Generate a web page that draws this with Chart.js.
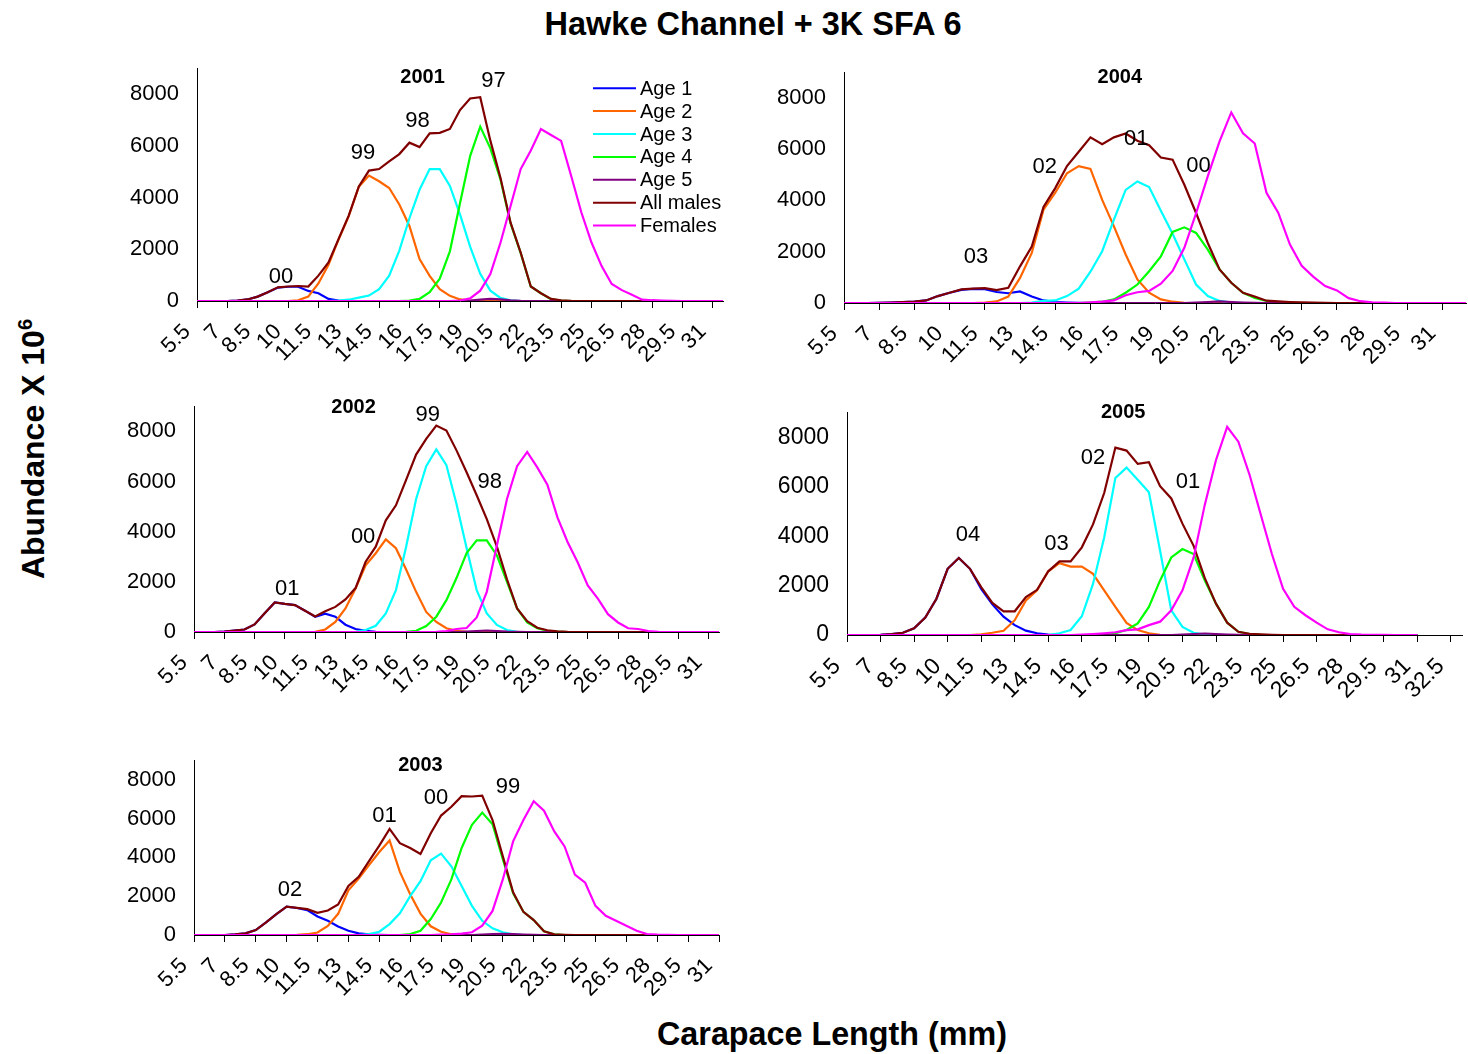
<!DOCTYPE html>
<html>
<head>
<meta charset="utf-8">
<script src="https://cdn.jsdelivr.net/npm/chart.js@4.4.1/dist/chart.umd.min.js"></script>
<style>
  html, body { margin: 0; padding: 0; overflow: hidden; }
  body { width: 1468px; height: 1054px; position: relative; background: #fff; font-family: "Liberation Sans", Arial, sans-serif; color: #000; }
  canvas { position: absolute; }
  .txt { position: absolute; font-weight: bold; white-space: nowrap; line-height: 1; }
  #mainTitle { left: 753px; top: 8px; font-size: 32.5px; transform: translateX(-50%); }
  #xTitle { left: 832px; top: 1018px; font-size: 32.3px; transform: translateX(-50%); }
  #yTitle { left: 33px; top: 449px; font-size: 32px; transform: translate(-50%, -50%) rotate(-90deg); }
  #yTitle sup { font-size: 20px; vertical-align: 12px; line-height: 0; }
</style>
</head>
<body>
<div id="mainTitle" class="txt">Hawke Channel + 3K SFA 6</div>
<div id="yTitle" class="txt">Abundance X 10<sup>6</sup></div>
<div id="xTitle" class="txt">Carapace Length (mm)</div>

<script>
// carapace length classes (mm)
const sizeLabels = ['5.5','6','6.5','7','7.5','8','8.5','9','9.5','10','10.5','11','11.5','12','12.5','13','13.5','14',
  '14.5','15','15.5','16','16.5','17','17.5','18','18.5','19','19.5','20','20.5','21','21.5','22','22.5','23','23.5',
  '24','24.5','25','25.5','26','26.5','27','27.5','28','28.5','29','29.5','30','30.5','31','31.5','32','32.5','33'];
const abundanceTicks = [0, 2000, 4000, 6000, 8000];

const seriesNames = ['Age 1', 'Age 2', 'Age 3', 'Age 4', 'Age 5', 'All males', 'Females'];
const seriesColors = ['#0000ff', '#ff6600', '#00ffff', '#00ff00', '#800080', '#800000', '#ff00ff'];

// ---- 2001 ----
const age1_2001 = [0,0,0,0,20,60,170,340,520,550, 550,390,300,80,20,0,0,0,0,0, 0,0,0,0,0,0,0,0,0,0,
  0,0,0,0,0,0,0,0,0,0, 0,0,0,0,0,0,0,0,0,0, 0,0,0];
const age2_2001 = [0,0,0,0,0,0,0,0,0,0, 30,170,680,1400,2380,3280,4420,4850,4630,4370, 3730,2900,1620,970,460,200,60,20,0,0,
  0,0,0,0,0,0,0,0,0,0, 0,0,0,0,0,0,0,0,0,0, 0,0,0];
const age3_2001 = [0,0,0,0,0,0,0,0,0,0, 0,0,0,0,20,50,130,210,460,975, 1950,3200,4300,5100,5100,4450,3350,2100,1050,400,
  120,30,0,0,0,0,0,0,0,0, 0,0,0,0,0,0,0,0,0,0, 0,0,0];
const age4_2001 = [0,0,0,0,0,0,0,0,0,0, 0,0,0,0,0,0,0,0,0,0, 0,20,80,340,860,1920,3780,5600,6740,5900,
  4700,3000,1850,560,300,70,20,0,0,0, 0,0,0,0,0,0,0,0,0,0, 0,0,0];
const age5_2001 = [0,0,0,0,0,0,0,0,0,0, 0,0,0,0,0,0,0,0,0,0, 0,0,0,0,0,0,0,20,50,80,
  60,30,10,0,0,0,0,0,0,0, 0,0,0,0,0,0,0,0,0,0, 0,0,0];
const males_2001 = [0,0,0,0,20,60,170,340,530,560, 580,560,980,1490,2400,3300,4430,5040,5100,5400, 5680,6120,5950,6480,6500,6650,7380,7830,7880,6200,
  4760,3030,1870,560,300,80,30,10,0,0, 0,0,0,0,0,0,0,0,0,0, 0,0,0];
const females_2001 = [0,0,0,0,0,0,0,0,0,0, 0,0,0,0,0,0,0,0,0,0, 0,0,0,0,0,0,20,100,400,1040,
  2250,3670,5100,5820,6650,6420,6190,4820,3420,2260, 1350,660,420,240,50,30,20,10,0,0, 0,0,0];
const cohorts2001 = [['00', 8.3, 920], ['99', 16.4, 5730], ['98', 21.8, 6960], ['97', 29.3, 8500]];

// ---- 2004 ----
const age1_2004 = [0,0,0,10,20,40,50,100,270,400, 510,550,540,430,380,450,250,100,40,20, 10,0,0,0,0,0,0,0,0,0,
  0,0,0,0,0,0,0,0,0,0, 0,0,0,0,0,0,0,0,0,0, 0,0,0,0];
const age2_2004 = [0,0,0,0,0,0,0,0,0,0, 0,0,20,60,250,980,1950,3640,4300,5060, 5340,5230,4020,2990,1890,920,400,140,50,10,
  0,0,0,0,0,0,0,0,0,0, 0,0,0,0,0,0,0,0,0,0, 0,0,0,0];
const age3_2004 = [0,0,0,0,0,0,0,0,0,0, 0,0,0,0,0,0,20,80,100,270, 560,1220,2020,3250,4410,4740,4520,3600,2700,1700,
  720,270,80,20,0,0,0,0,0,0, 0,0,0,0,0,0,0,0,0,0, 0,0,0,0];
const age4_2004 = [0,0,0,0,0,0,0,0,0,0, 0,0,0,0,0,0,0,0,0,0, 0,20,50,140,400,720,1240,1820,2770,2950,
  2730,2080,1310,790,400,200,80,30,10,0, 0,0,0,0,0,0,0,0,0,0, 0,0,0,0];
const age5_2004 = [0,0,0,0,0,0,0,0,0,0, 0,0,0,0,0,0,0,0,0,0, 0,0,0,0,0,0,0,0,0,0,
  20,40,60,40,20,10,0,0,0,0, 0,0,0,0,0,0,0,0,0,0, 0,0,0,0];
const males_2004 = [0,0,0,10,20,40,50,100,270,400, 530,560,580,500,590,1430,2200,3750,4480,5340, 5900,6460,6190,6460,6610,6330,6150,5670,5590,4610,
  3510,2340,1310,790,400,250,90,60,40,30, 20,10,0,0,0,0,0,0,0,0, 0,0,0,0];
const females_2004 = [0,0,0,0,0,0,0,0,0,0, 0,0,0,0,0,0,0,0,0,0, 0,30,50,100,300,420,470,750,1250,2150,
  3500,4950,6300,7430,6620,6220,4300,3520,2280,1450, 1020,660,490,190,70,30,20,0,0,0, 0,0,0,0];
const cohorts2004 = [['03', 11.25, 1800], ['02', 17.1, 5320], ['01', 24.9, 6400], ['00', 30.2, 5360]];

// ---- 2002 ----
const age1_2002 = [0,0,0,20,60,100,300,750,1180,1120, 1070,850,610,730,610,290,120,50,10,0, 0,0,0,0,0,0,0,0,0,0,
  0,0,0,0,0,0,0,0,0,0, 0,0,0,0,0,0,0,0,0,0, 0,0,0];
const age2_2002 = [0,0,0,0,0,0,0,0,0,0, 0,0,10,100,400,940,1730,2660,3140,3690, 3340,2500,1600,800,400,150,50,10,0,0,
  0,0,0,0,0,0,0,0,0,0, 0,0,0,0,0,0,0,0,0,0, 0,0,0];
const age3_2002 = [0,0,0,0,0,0,0,0,0,0, 0,0,0,0,0,0,10,80,250,740, 1670,3380,5300,6610,7280,6650,5100,3350,1670,740,
  280,80,10,0,0,0,0,0,0,0, 0,0,0,0,0,0,0,0,0,0, 0,0,0];
const age4_2002 = [0,0,0,0,0,0,0,0,0,0, 0,0,0,0,0,0,0,0,0,0, 0,10,50,240,610,1270,2150,3150,3650,3650,
  3050,2000,940,380,150,50,20,0,0,0, 0,0,0,0,0,0,0,0,0,0, 0,0,0];
const age5_2002 = [0,0,0,0,0,0,0,0,0,0, 0,0,0,0,0,0,0,0,0,0, 0,0,0,0,0,0,0,20,40,60,
  40,20,10,0,0,0,0,0,0,0, 0,0,0,0,0,0,0,0,0,0, 0,0,0];
const males_2002 = [0,0,0,20,60,100,300,750,1180,1120, 1070,850,620,830,1000,1300,1750,2800,3400,4450, 5050,6050,7070,7700,8230,8030,7240,6370,5450,4500,
  3400,2100,940,430,170,70,30,10,0,0, 0,0,0,0,0,0,0,0,0,0, 0,0,0];
const females_2002 = [0,0,0,0,0,0,0,0,0,0, 0,0,0,0,0,0,0,0,0,0, 0,0,0,0,10,40,120,160,580,1600,
  3450,5300,6610,7180,6560,5870,4570,3590,2780,1860, 1330,710,380,150,120,40,10,0,0,0, 0,0,0];
const cohorts2002 = [['01', 9.23, 1700], ['00', 16.75, 3790], ['99', 23.15, 8670], ['98', 29.3, 5990]];

// ---- 2005 (no catch recorded above 31 mm) ----
const age1_2005 = [0,0,0,10,40,90,270,710,1470,2680, 3120,2680,1870,1240,740,400,175,70,15,0, 0,0,0,0,0,0,0,0,0,0,
  0,0,0,0,0,0,0,0,0,0, 0,0,0,0,0,0,0,0,0,0, 0,0,null,null,null,null];
const age2_2005 = [0,0,0,0,0,0,0,0,0,0, 0,0,30,90,170,600,1400,1810,2580,2910, 2770,2770,2480,1810,1140,490,200,70,10,0,
  0,0,0,0,0,0,0,0,0,0, 0,0,0,0,0,0,0,0,0,0, 0,0,null,null,null,null];
const age3_2005 = [0,0,0,0,0,0,0,0,0,0, 0,0,0,0,0,0,0,0,0,70, 200,760,2070,3950,6360,6780,6290,5780,3410,1000,
  330,90,20,0,0,0,0,0,0,0, 0,0,0,0,0,0,0,0,0,0, 0,0,null,null,null,null];
const age4_2005 = [0,0,0,0,0,0,0,0,0,0, 0,0,0,0,0,0,0,0,0,0, 0,0,0,0,70,200,470,1140,2210,3140,
  3480,3280,2210,1270,500,130,40,10,0,0, 0,0,0,0,0,0,0,0,0,0, 0,0,null,null,null,null];
const age5_2005 = [0,0,0,0,0,0,0,0,0,0, 0,0,0,0,0,0,0,0,0,0, 0,0,0,0,0,0,0,0,0,0,
  20,40,60,40,20,10,0,0,0,0, 0,0,0,0,0,0,0,0,0,0, 0,0,null,null,null,null];
const males_2005 = [0,0,0,10,40,90,270,710,1470,2680, 3120,2680,1940,1300,960,960,1540,1830,2580,2980, 2980,3550,4480,5750,7590,7470,6930,7000,6030,5530,
  4510,3610,2300,1270,500,130,50,30,10,0, 0,0,0,0,0,0,0,0,0,0, 0,0,null,null,null,null];
const females_2005 = [0,0,0,0,0,0,0,0,0,0, 0,0,0,0,0,0,0,0,0,0, 0,20,40,70,110,200,230,400,540,1000,
  1810,3140,5280,7090,8430,7830,6490,4880,3280,1870, 1140,800,500,230,110,40,15,10,5,0, 0,0,null,null,null,null];
const cohorts2005 = [['04', 10.83, 4040], ['03', 18.74, 3705], ['02', 22.0, 7160], ['01', 30.5, 6180]];

// ---- 2003 ----
const age1_2003 = [0,0,0,0,30,85,255,650,1070,1460, 1390,1280,950,730,440,220,85,30,10,0, 0,0,0,0,0,0,0,0,0,0,
  0,0,0,0,0,0,0,0,0,0, 0,0,0,0,0,0,0,0,0,0, 0,0];
const age2_2003 = [0,0,0,0,0,0,0,0,0,0, 10,40,130,470,1090,2300,2900,3600,4270,4870, 3250,2100,1100,450,170,40,10,0,0,0,
  0,0,0,0,0,0,0,0,0,0, 0,0,0,0,0,0,0,0,0,0, 0,0];
const age3_2003 = [0,0,0,0,0,0,0,0,0,0, 0,0,0,0,0,0,0,50,170,560, 1120,2000,2770,3850,4190,3540,2520,1500,730,340,
  140,30,0,0,0,0,0,0,0,0, 0,0,0,0,0,0,0,0,0,0, 0,0];
const age4_2003 = [0,0,0,0,0,0,0,0,0,0, 0,0,0,0,0,0,0,0,0,0, 0,50,220,820,1670,2860,4480,5670,6300,5700,
  3900,2150,1190,770,190,40,0,0,0,0, 0,0,0,0,0,0,0,0,0,0, 0,0];
const age5_2003 = [0,0,0,0,0,0,0,0,0,0, 0,0,0,0,0,0,0,0,0,0, 0,0,0,0,0,0,0,0,20,50,
  60,40,20,10,0,0,0,0,0,0, 0,0,0,0,0,0,0,0,0,0, 0,0];
const males_2003 = [0,0,0,0,30,85,255,650,1070,1460, 1400,1330,1140,1260,1570,2520,3000,3800,4600,5460, 4730,4480,4170,5240,6150,6600,7150,7130,7180,5920,
  4050,2200,1190,770,190,30,10,0,0,0, 0,0,0,0,0,0,0,0,0,0, 0,0];
const females_2003 = [0,0,0,0,0,0,0,0,0,0, 0,0,0,0,0,0,0,0,0,0, 0,0,0,0,15,30,70,140,480,1240,
  2860,4820,5920,6890,6400,5330,4560,3110,2690,1500, 990,730,480,220,50,20,10,0,0,0, 0,0];
const cohorts2003 = [['02', 9.33, 2310], ['01', 18.5, 6140], ['00', 23.5, 7040], ['99', 30.5, 7640]];

const FONT = '"Liberation Sans", Arial, sans-serif';

// plot-area boxes on the page, one per year
const panes = [
  { year: '2001', nCats: 53, left: 197, top: 67, width: 526, height: 234, tick: 22, label: 22, titleAt: [22.3, 8650], legend: true,
    series: [age1_2001, age2_2001, age3_2001, age4_2001, age5_2001, males_2001, females_2001], cohorts: cohorts2001 },
  { year: '2004', nCats: 54, left: 844, top: 71, width: 622, height: 232, tick: 22, label: 22, titleAt: [23.5, 8780],
    series: [age1_2004, age2_2004, age3_2004, age4_2004, age5_2004, males_2004, females_2004], cohorts: cohorts2004 },
  { year: '2002', nCats: 53, left: 194, top: 405, width: 525, height: 227, tick: 22, label: 22, titleAt: [15.8, 8940],
    series: [age1_2002, age2_2002, age3_2002, age4_2002, age5_2002, males_2002, females_2002], cohorts: cohorts2002 },
  { year: '2005', nCats: 56, left: 847, top: 411, width: 615, height: 224, tick: 23, label: 22, titleAt: [24.7, 9000],
    series: [age1_2005, age2_2005, age3_2005, age4_2005, age5_2005, males_2005, females_2005], cohorts: cohorts2005 },
  { year: '2003', nCats: 52, left: 194, top: 759, width: 525, height: 176, tick: 22, label: 22, titleAt: [22.0, 8710],
    series: [age1_2003, age2_2003, age3_2003, age4_2003, age5_2003, males_2003, females_2003], cohorts: cohorts2003 }
];

const AXIS_W = 100, AXIS_H = 110, PAD_T = 30, PAD_R = 40;

// year title, cohort tags and (first panel only) the legend
function panelText(pane) {
  return {
    id: 'panelText',
    afterDraw(chart) {
      const { ctx, chartArea, scales: { x, y } } = chart;
      ctx.save();
      ctx.fillStyle = '#000';
      ctx.textAlign = 'center';
      ctx.textBaseline = 'middle';
      ctx.font = `bold 20px ${FONT}`;
      ctx.fillText(pane.year, x.getPixelForValue(pane.titleAt[0]), y.getPixelForValue(pane.titleAt[1]));
      ctx.font = `${pane.label}px ${FONT}`;
      pane.cohorts.forEach(([text, cat, val]) => {
        ctx.fillText(text, x.getPixelForValue(cat), y.getPixelForValue(val));
      });
      if (pane.legend) {
        const lx = chartArea.right - 130;
        const ly = chartArea.top + 20;
        ctx.font = `20px ${FONT}`;
        ctx.textAlign = 'left';
        chart.data.datasets.forEach((ds, i) => {
          const yy = ly + i * 22.9;
          ctx.strokeStyle = ds.borderColor;
          ctx.lineWidth = 2;
          ctx.beginPath();
          ctx.moveTo(lx, yy);
          ctx.lineTo(lx + 43, yy);
          ctx.stroke();
          ctx.fillText(ds.label, lx + 47, yy + 1);
        });
      }
      ctx.restore();
    }
  };
}

function renderPane(pane) {
  const canvas = document.createElement('canvas');
  canvas.width = pane.width + AXIS_W + PAD_R;
  canvas.height = pane.height + PAD_T + AXIS_H;
  canvas.style.left = (pane.left - AXIS_W) + 'px';
  canvas.style.top = (pane.top - PAD_T) + 'px';
  document.body.appendChild(canvas);

  new Chart(canvas, {
    type: 'line',
    data: {
      labels: sizeLabels.slice(0, pane.nCats),
      datasets: seriesNames.map((name, i) => ({
        label: name,
        data: pane.series[i],
        borderColor: seriesColors[i],
        backgroundColor: seriesColors[i],
        borderWidth: 2.2,
        pointRadius: 0,
        tension: 0,
        fill: false,
        order: 6 - i // females on top, age 1 underneath
      }))
    },
    options: {
      responsive: false,
      animation: false,
      devicePixelRatio: 1,
      layout: { padding: { left: 0, top: PAD_T, right: PAD_R, bottom: 0 } },
      plugins: { legend: { display: false }, tooltip: { enabled: false } },
      scales: {
        x: {
          type: 'category',
          offset: false,
          border: { display: true, color: '#000', width: 1 },
          grid: {
            drawOnChartArea: false,
            drawTicks: true,
            tickLength: 7,
            tickWidth: 1,
            tickColor: c => (c.index % 3 === 0 ? '#000' : 'rgba(0,0,0,0)')
          },
          ticks: {
            autoSkip: false,
            minRotation: 45,
            maxRotation: 45,
            padding: 11,
            labelOffset: -10,
            color: '#000',
            font: { family: FONT, size: pane.tick },
            callback(value, index) {
              return index % 3 === 0 ? this.getLabelForValue(value) : '';
            }
          },
          afterFit: s => { s.height = AXIS_H; }
        },
        y: {
          min: 0,
          max: 9000,
          border: { display: true, color: '#000', width: 1 },
          grid: { drawOnChartArea: false, drawTicks: false },
          ticks: { padding: 18, color: '#000', font: { family: FONT, size: pane.tick }, callback: v => String(v) },
          afterBuildTicks: s => { s.ticks = abundanceTicks.map(v => ({ value: v })); },
          afterFit: s => { s.width = AXIS_W; }
        }
      }
    },
    plugins: [panelText(pane)]
  });
}

panes.forEach(renderPane);
</script>
</body>
</html>
